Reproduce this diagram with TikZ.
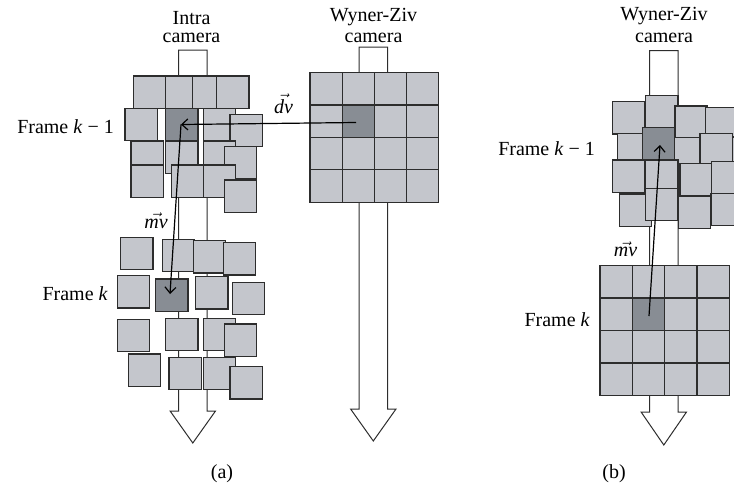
\documentclass[tikz,border=0pt]{standalone}
\usepackage{fontspec}
\setmainfont{Liberation Serif}
\usetikzlibrary{arrows.meta}
\definecolor{lt}{RGB}{196,198,204}
\definecolor{dk}{RGB}{136,141,148}
\definecolor{ln}{RGB}{45,45,45}
\tikzset{
 sqr/.style={draw=ln, line width=1.1pt, fill=lt, minimum size=32.3pt, inner sep=0pt, outer sep=0pt, anchor=north west},
 dsqr/.style={sqr, fill=dk},
 stemshape/.style={draw=ln, line width=1pt, fill=white, line join=miter},
 vecarrow/.style={line width=1.2pt, draw=black, -{Straight Barb[length=6pt,width=11pt]}},
 lbl/.style={inner sep=0pt, font=\fontsize{20}{22}\selectfont},
}
\newcommand\Sq[3]{\node[sqr] (#1) at (#2,#3) {};}
\newcommand\Dq[3]{\node[dsqr] (#1) at (#2,#3) {};}
\newcommand\Stem[4]{\draw[stemshape] (#1-14.3,#2) -- (#1+14.3,#2) -- (#1+14.3,#3) -- (#1+22.7,#3) -- (#1,#4) -- (#1-22.7,#3) -- (#1-14.3,#3) -- cycle;}
\begin{document}
\begin{tikzpicture}[x=1pt,y=-1pt]
\useasboundingbox (0,0) rectangle (734,488);
% stems
\Stem{192.8}{50}{411}{443}
\Stem{373.3}{47}{409}{441}
\Stem{663.8}{50.7}{412}{445}
% (a) intra frame k-1
\Sq{A}{133.3}{76}
\Sq{B}{165.7}{76}
\Sq{C}{192.3}{76}
\Sq{D}{216.7}{76}
\Sq{E}{125}{108.3}
\Sq{H}{203.3}{108.3}
\Sq{I}{230}{114.3}
\Sq{J}{131}{141}
\Sq{Bd}{165.7}{141}
\Sq{L}{203.3}{141}
\Sq{M}{224.3}{146.7}
\Sq{K}{131}{165}
\Sq{N}{171.7}{165}
\Sq{O}{203.3}{165}
\Sq{P}{224.3}{180}
\Dq{F}{165.7}{108.3}
% (a) intra frame k
\Sq{a1}{120.7}{237.3}
\Sq{a2}{162.3}{239.3}
\Sq{a3}{193.3}{240.7}
\Sq{a4}{223.3}{242.7}
\Sq{a5}{117.3}{275.7}
\Sq{a7}{195.7}{276.7}
\Sq{a8}{232.3}{282.3}
\Sq{a9}{117.3}{319.3}
\Sq{a10}{165.7}{318.3}
\Sq{a11}{203.3}{318.3}
\Sq{a12}{224.3}{324}
\Sq{a13}{128.3}{354}
\Sq{a14}{169}{357.3}
\Sq{a15}{203.3}{357.3}
\Sq{a16}{230}{366.7}
\Dq{a6}{155.7}{279}
% (a) Wyner-Ziv grid
\foreach \i in {0,...,3} \foreach \j in {0,...,3} {\node[sqr] (ga-\i-\j) at ({310+32.2*\i},{72.7+32.4*\j}) {};}
\Dq{gadk}{342.2}{105.1}
% (b) Wyner-Ziv frame k-1
\Sq{q1}{612.3}{101.7}
\Sq{q2}{645.7}{95.7}
\Sq{q3}{675}{106}
\Sq{q4}{705.5}{107.3}
\Sq{q5}{617.3}{133.3}
\Sq{q6}{673.3}{137.3}
\Sq{q7}{700}{133.3}
\Sq{q8}{732.7}{137}
\Dq{qd}{642.3}{127.3}
\Sq{q9}{612.3}{160}
\Sq{q10}{645.7}{160}
\Sq{q11}{680}{163.3}
\Sq{q12}{711.7}{161.7}
\Sq{q13}{619.3}{194}
\Sq{q14}{645.7}{188.3}
\Sq{q15}{678.3}{196.3}
\Sq{q16}{711}{193.3}
% (b) frame k grid
\foreach \i in {0,...,3} \foreach \j in {0,...,3} {\node[sqr] (gb-\i-\j) at ({600+32.35*\i},{265.7+32.5*\j}) {};}
\Dq{gbdk}{632.35}{298.2}
% vectors
\coordinate (dvs) at (356,122.5);
\coordinate (dve) at (181,124.5);
\coordinate (mvae) at (170,294);
\coordinate (mvbs) at (649,316);
\coordinate (mvbe) at (660,145);
\draw[vecarrow] (dvs) -- (dve);
\draw[vecarrow] (dve) -- (mvae);
\draw[vecarrow] (mvbs) -- (mvbe);
% labels
\node[lbl, anchor=base] (ldv) at (283.5,113) {$\vec{\textit{dv}}$};
\node[lbl, anchor=base] (lmva) at (156,228) {$\vec{\textit{mv}}$};
\node[lbl, anchor=base] (lmvb) at (625.5,256.5) {$\vec{\textit{mv}}$};
\node[lbl, anchor=base] (intra1) at (191.5,24) {Intra};
\node[lbl, anchor=base] (intra2) at (191.5,42) {camera};
\node[lbl, anchor=base] (wza1) at (373.5,21.5) {Wyner-Ziv};
\node[lbl, anchor=base] (wza2) at (373.5,42) {camera};
\node[lbl, anchor=base] (wzb1) at (664,20.5) {Wyner-Ziv};
\node[lbl, anchor=base] (wzb2) at (664,42) {camera};
\node[lbl, anchor=base east] (fa1) at (114,133) {Frame \textit{k} − 1};
\node[lbl, anchor=base east] (fa2) at (108,300) {Frame \textit{k}};
\node[lbl, anchor=base east] (fb1) at (595,155) {Frame \textit{k} − 1};
\node[lbl, anchor=base east] (fb2) at (590,326) {Frame \textit{k}};
\node[lbl, anchor=base] (capa) at (222,478) {(a)};
\node[lbl, anchor=base] (capb) at (614,478) {(b)};
\end{tikzpicture}
\end{document}
